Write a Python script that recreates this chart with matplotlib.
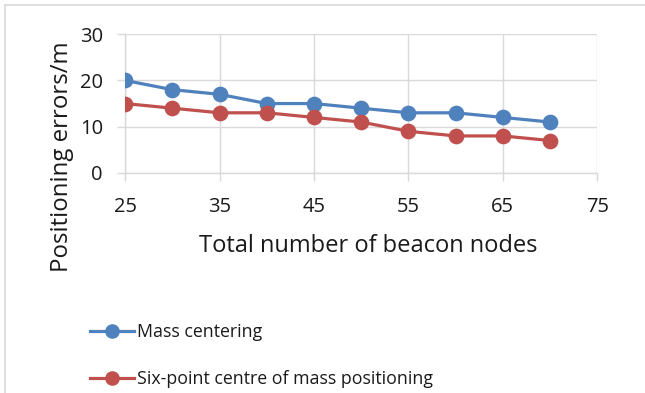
import matplotlib
matplotlib.use("Agg")
import matplotlib.pyplot as plt
from matplotlib.lines import Line2D

plt.rcParams["font.family"] = ["Open Sans", "DejaVu Sans"]

# data
beacon_nodes = [25, 30, 35, 40, 45, 50, 55, 60, 65, 70]
mass_centering = [20, 18, 17, 15, 15, 14, 13, 13, 12, 11]
six_point = [15, 14, 13, 13, 12, 11, 9, 8, 8, 7]

x_ticks = [25, 35, 45, 55, 65, 75]
y_ticks = [0, 10, 20, 30]

BLUE = "#4F81BD"
RED = "#C0504D"
GRID = "#D9D9D9"
TEXT = "#1a1a1a"

W, H = 645, 393
fig = plt.figure(figsize=(W / 100, H / 100), dpi=100)
ax = fig.add_axes([0.194, 0.560, 0.732, 0.353])

ax.plot(beacon_nodes, mass_centering, color=BLUE, lw=2.3, marker="o", ms=10.3,
        label="Mass centering", zorder=3)
ax.plot(beacon_nodes, six_point, color=RED, lw=2.3, marker="o", ms=10.3,
        label="Six-point centre of mass positioning", zorder=3)

ax.set_xlim(25, 75)
ax.set_ylim(0, 30)
ax.set_xticks(x_ticks)
ax.set_yticks(y_ticks)
ax.grid(True, color=GRID, lw=1)
ax.set_axisbelow(True)
for side in ["top", "right"]:
    ax.spines[side].set_visible(False)
for side in ["left", "bottom"]:
    ax.spines[side].set_color(GRID)
    ax.spines[side].set_linewidth(1)
ax.tick_params(colors=GRID, labelcolor=TEXT, labelsize=14.5, length=6, width=1)
ax.tick_params(axis="x", pad=11)
ax.tick_params(axis="y", pad=10)

# axis titles placed like the Excel original (not centred on the plot area)
fig.text(368 / W, 1 - 252 / H, "Total number of beacon nodes", fontsize=17,
         color=TEXT, ha="center", va="baseline")
fig.text(62 / W, 1 - 157 / H, "Positioning errors/m", fontsize=17.3,
         color=TEXT, rotation=90, ha="center", va="center")

handles = [Line2D([], [], color=BLUE, lw=2.3, marker="o", ms=9.5),
           Line2D([], [], color=RED, lw=2.3, marker="o", ms=9.5)]
fig.legend(handles, ["Mass centering", "Six-point centre of mass positioning"],
           loc="upper left", bbox_to_anchor=(0.114, 0.218), frameon=False,
           fontsize=12.8, handlelength=2.5, handletextpad=0.17, labelspacing=1.6,
           labelcolor=TEXT)

# outer chart border (only top and left visible in the crop)
fig.add_artist(Line2D([0.008, 1.0], [0.987, 0.987], color=GRID, lw=1.2, transform=fig.transFigure))
fig.add_artist(Line2D([0.008, 0.008], [0.0, 0.987], color=GRID, lw=1.2, transform=fig.transFigure))

fig.savefig("out.png", dpi=100)
